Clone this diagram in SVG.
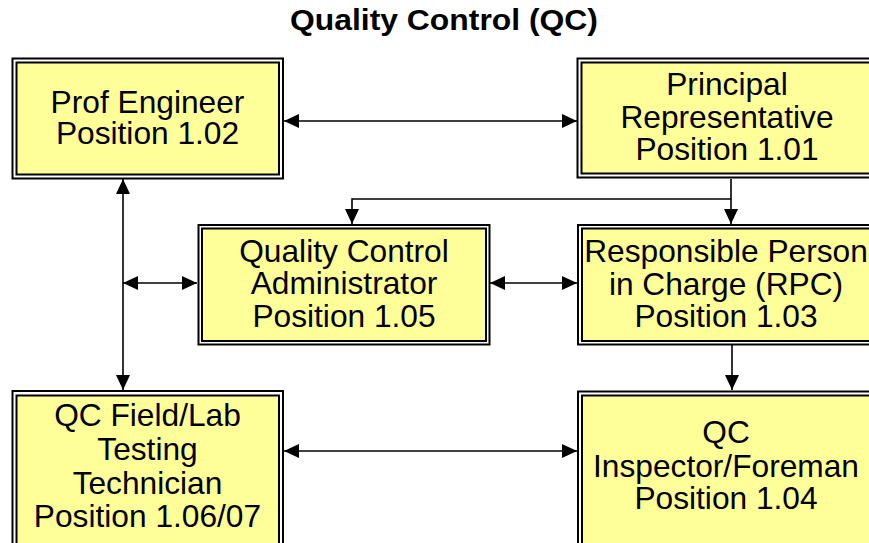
<svg xmlns="http://www.w3.org/2000/svg" width="869" height="543" viewBox="0 0 869 543">
<style>
.outer{fill:#ffffff;stroke:#000;stroke-width:2}
.inner{fill:#ffff99;stroke:#000;stroke-width:2}
.t{font-family:"Liberation Sans",Arial,sans-serif;font-size:31.7px;fill:#000;text-anchor:middle}
.title{font-family:"Liberation Sans",Arial,sans-serif;font-size:29px;font-weight:bold;fill:#000;text-anchor:middle}
.c{fill:none;stroke:#000;stroke-width:1.6}
</style>
<defs>
<marker id="ah" viewBox="0 0 15 14" refX="15" refY="7" markerWidth="15" markerHeight="14" markerUnits="userSpaceOnUse" orient="auto-start-reverse">
<path d="M0,0 L15,7 L0,14 Z" fill="#000"/>
</marker>
</defs>
<rect width="869" height="543" fill="#fff"/>
<text class="title" x="444" y="30" textLength="308" lengthAdjust="spacingAndGlyphs">Quality Control (QC)</text>

<g id="connectors">
<line class="c" x1="284" y1="121" x2="577" y2="121" marker-start="url(#ah)" marker-end="url(#ah)"/>
<line class="c" x1="123" y1="179" x2="123" y2="390" marker-start="url(#ah)" marker-end="url(#ah)"/>
<line class="c" x1="123" y1="283" x2="197" y2="283" marker-start="url(#ah)" marker-end="url(#ah)"/>
<polyline class="c" points="731,179 731,199 352,199 352,224" marker-end="url(#ah)"/>
<line class="c" x1="731" y1="199" x2="731" y2="224" marker-end="url(#ah)"/>
<line class="c" x1="490" y1="283" x2="577" y2="283" marker-start="url(#ah)" marker-end="url(#ah)"/>
<line class="c" x1="732" y1="345" x2="732" y2="390" marker-end="url(#ah)"/>
<line class="c" x1="284" y1="451" x2="577" y2="451" marker-start="url(#ah)" marker-end="url(#ah)"/>
</g>

<g id="prof-engineer">
<rect class="outer" x="12.5" y="58.5" width="270.5" height="120"/>
<rect class="inner" x="16.5" y="62.5" width="262.5" height="112"/>
<text class="t" x="147.5" y="113">Prof Engineer</text>
<text class="t" x="147.5" y="144">Position 1.02</text>
</g>

<g id="principal-representative">
<rect class="outer" x="577.5" y="58.5" width="310" height="119"/>
<rect class="inner" x="581.5" y="62.5" width="302" height="111"/>
<text class="t" x="727" y="95">Principal</text>
<text class="t" x="727" y="128">Representative</text>
<text class="t" x="727" y="160">Position 1.01</text>
</g>

<g id="qc-administrator">
<rect class="outer" x="198.5" y="225" width="291" height="119.5"/>
<rect class="inner" x="202" y="228.5" width="284" height="112.5"/>
<text class="t" x="344" y="262">Quality Control</text>
<text class="t" x="344" y="294">Administrator</text>
<text class="t" x="344" y="327">Position 1.05</text>
</g>

<g id="rpc">
<rect class="outer" x="578" y="225" width="310" height="119.5"/>
<rect class="inner" x="582" y="228.5" width="302" height="112.5"/>
<text class="t" x="726" y="262">Responsible Person</text>
<text class="t" x="726" y="295">in Charge (RPC)</text>
<text class="t" x="726" y="327">Position 1.03</text>
</g>

<g id="qc-field-lab-technician">
<rect class="outer" x="12.5" y="391" width="270.5" height="170"/>
<rect class="inner" x="16.5" y="395.5" width="262.5" height="160"/>
<text class="t" x="147.5" y="426">QC Field/Lab</text>
<text class="t" x="147.5" y="460">Testing</text>
<text class="t" x="147.5" y="494">Technician</text>
<text class="t" x="147.5" y="527">Position 1.06/07</text>
</g>

<g id="qc-inspector-foreman">
<rect class="outer" x="578" y="391.5" width="310" height="170"/>
<rect class="inner" x="582" y="395.5" width="302" height="160"/>
<text class="t" x="726" y="443">QC</text>
<text class="t" x="726" y="477">Inspector/Foreman</text>
<text class="t" x="726" y="509">Position 1.04</text>
</g>
</svg>
